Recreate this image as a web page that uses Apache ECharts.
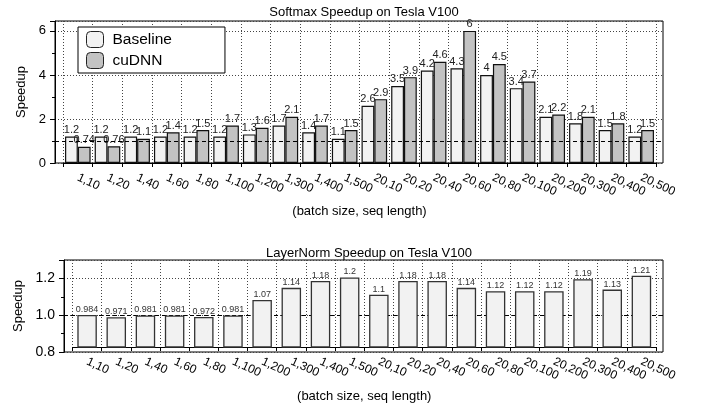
<!DOCTYPE html>
<html>
<head>
<meta charset="utf-8">
<script src="https://cdn.jsdelivr.net/npm/echarts@6/dist/echarts.min.js"></script>
<style>
  html, body { margin: 0; padding: 0; background: #fff; }
  #chart { width: 706px; height: 404px; }
</style>
</head>
<body>
<div id="chart"></div>
<script>
const categories = ['1,10','1,20','1,40','1,60','1,80','1,100','1,200','1,300','1,400','1,500',
                    '20,10','20,20','20,40','20,60','20,80','20,100','20,200','20,300','20,400','20,500'];
const softmaxBaseline = [1.2, 1.2, 1.2, 1.2, 1.2, 1.2, 1.3, 1.7, 1.4, 1.1, 2.6, 3.5, 4.2, 4.3, 4, 3.4, 2.1, 1.8, 1.5, 1.2];
const softmaxCudnn    = [0.74, 0.76, 1.1, 1.4, 1.5, 1.7, 1.6, 2.1, 1.7, 1.5, 2.9, 3.9, 4.6, 6, 4.5, 3.7, 2.2, 2.1, 1.8, 1.5];
const layerNorm       = [0.984, 0.971, 0.981, 0.981, 0.972, 0.981, 1.07, 1.14, 1.18, 1.2, 1.1, 1.18, 1.18, 1.14, 1.12, 1.12, 1.12, 1.19, 1.13, 1.21];
const softmaxYTicks   = [0, 2, 4, 6];
const layerNormYTicks = [0.8, 1.0, 1.2];
const seriesNames     = ['Baseline', 'cuDNN'];

const FONT = 'Liberation Sans, Arial, Helvetica, sans-serif';
const dotted = { show: true, lineStyle: { color: '#444', type: [1, 2], width: 1 } };

const chart = echarts.init(document.getElementById('chart'), null, { renderer: 'canvas' });

function frameY(gridIndex, min, max, interval, ticks, nameGap, labelSize) {
  return {
    type: 'value', gridIndex, min, max, interval,
    name: 'Speedup', nameLocation: 'middle', nameGap,
    nameTextStyle: { fontSize: 13, color: '#000', fontFamily: FONT },
    axisLine: { show: true, lineStyle: { color: '#000', width: 1 } },
    axisTick: { show: true, length: 5, lineStyle: { color: '#000' } },
    minorTick: { show: true, splitNumber: 2, length: 3, lineStyle: { color: '#000' } },
    axisLabel: { fontSize: labelSize, color: '#000', margin: 9, fontFamily: FONT, showMaxLabel: false,
                 formatter: v => ticks.some(t => Math.abs(t - v) < 1e-9) ? (interval < 1 ? v.toFixed(1) : String(v)) : '' },
    splitLine: dotted
  };
}
function hiddenY(gridIndex, min, max) {
  return { type: 'value', gridIndex, min, max, show: false, splitLine: { show: false } };
}
function hiddenX(gridIndex) {
  return { type: 'value', gridIndex, min: 0, max: 1, show: false, splitLine: { show: false } };
}
function catX(gridIndex, nameGap) {
  return {
    type: 'category', gridIndex, data: categories,
    name: '(batch size, seq length)', nameLocation: 'middle', nameGap,
    nameTextStyle: { fontSize: 13, color: '#000', fontFamily: FONT },
    axisLine: { show: true, lineStyle: { color: '#000' } },
    axisTick: { show: true, length: 4, lineStyle: { color: '#000' } },
    axisLabel: { interval: 0, rotate: -25, fontSize: 12, color: '#000', margin: 14, fontFamily: FONT },
    splitLine: { show: true, interval: 0, lineStyle: { color: '#444', type: [1, 2], width: 1 } }
  };
}
function refLine(xi, yi, z) {
  return {
    type: 'line', xAxisIndex: xi, yAxisIndex: yi, data: [], z,
    markLine: { silent: true, symbol: ['none', 'none'], label: { show: false },
                lineStyle: { type: [4, 3], color: '#000', width: 1 },
                data: [{ yAxis: 1 }] , z }
  };
}

const option = {
  animation: false,
  backgroundColor: '#fff',
  textStyle: { fontFamily: FONT },
  title: [
    { text: 'Softmax Speedup on Tesla V100', left: 359, top: 1, textAlign: 'center',
      textStyle: { fontSize: 13, fontWeight: 'normal', color: '#000', fontFamily: FONT } },
    { text: 'LayerNorm Speedup on Tesla V100', left: 364, top: 242, textAlign: 'center',
      textStyle: { fontSize: 13, fontWeight: 'normal', color: '#000', fontFamily: FONT } }
  ],
  legend: {
    data: seriesNames, orient: 'vertical', left: 78, top: 27,
    padding: [4, 53, 4, 8], itemGap: 4, itemWidth: 17, itemHeight: 16,
    backgroundColor: '#fff', borderColor: '#000', borderWidth: 1,
    icon: 'roundRect',
    textStyle: { fontSize: 15.5, color: '#000', fontFamily: FONT, padding: [0, 0, 0, 4] },
    itemStyle: { borderColor: '#222', borderWidth: 1 }
  },
  grid: [
    { left: 55, top: 21, width: 608, height: 142, show: true, borderColor: '#000', borderWidth: 1, backgroundColor: 'transparent' },
    { left: 63, top: 21, width: 593, height: 142 },
    { left: 64, top: 260, width: 599, height: 92, show: true, borderColor: '#000', borderWidth: 1, backgroundColor: 'transparent' },
    { left: 72.5, top: 260, width: 583.5, height: 92 }
  ],
  xAxis: [ hiddenX(0), catX(1, 42), hiddenX(2), catX(3, 43) ],
  yAxis: [
    frameY(0, 0, 6.45, 2, softmaxYTicks, 26, 13),
    hiddenY(1, 0, 6.45),
    frameY(2, 0.8, 1.3, 0.2, layerNormYTicks, 34, 14),
    hiddenY(3, 0.8, 1.3)
  ],
  series: [
    {
      name: seriesNames[0], type: 'bar', xAxisIndex: 1, yAxisIndex: 1, data: softmaxBaseline,
      barWidth: 12.8, barGap: '0%', z: 3,
      itemStyle: { color: '#f2f2f2', borderColor: '#111', borderWidth: 1.2 },
      label: { show: true, position: 'top', distance: 1, fontSize: 11, color: '#222', fontFamily: FONT }
    },
    {
      name: seriesNames[1], type: 'bar', xAxisIndex: 1, yAxisIndex: 1, data: softmaxCudnn,
      barWidth: 12.8, barGap: '0%', z: 3,
      itemStyle: { color: '#c3c3c3', borderColor: '#111', borderWidth: 1.2 },
      label: { show: true, position: 'top', distance: 1, fontSize: 11, color: '#222', fontFamily: FONT }
    },
    refLine(0, 0, 10),
    refLine(2, 2, 1),
    {
      name: 'LayerNorm', type: 'bar', xAxisIndex: 3, yAxisIndex: 3, data: layerNorm,
      barWidth: 19.5, z: 3,
      itemStyle: { color: '#f2f2f2', borderColor: '#333', borderWidth: 1.3 },
      label: { show: true, position: 'top', distance: 1, fontSize: 9, color: '#333', fontFamily: FONT }
    }
  ]
};
chart.setOption(option);
</script>
</body>
</html>
